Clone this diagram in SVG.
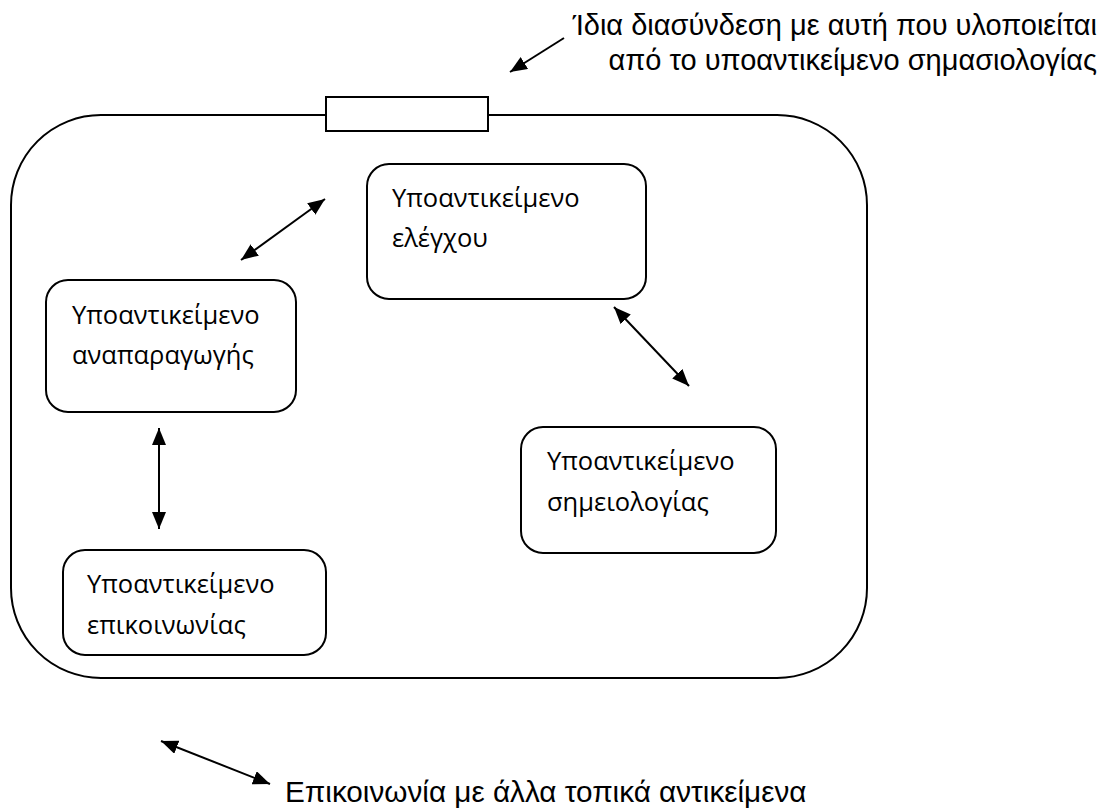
<svg xmlns="http://www.w3.org/2000/svg" width="1106" height="810" viewBox="0 0 1106 810">
  <style>
    .box { fill: #fff; stroke: #000; stroke-width: 2; }
    .lbl { font-family: "Open Sans", "DejaVu Sans", sans-serif; font-size: 25.5px; fill: #000; }
    .note { font-family: "Liberation Sans", Arial, sans-serif; font-size: 29px; fill: #000; }
    .wire { stroke: #000; stroke-width: 2; fill: none; }
  </style>
  <defs>
    <marker id="head" viewBox="0 0 17 14" refX="17" refY="7" markerWidth="17" markerHeight="14" markerUnits="userSpaceOnUse" orient="auto-start-reverse">
      <path d="M0,0 L17,7 L0,14 Z" fill="#000"/>
    </marker>
  </defs>

  <!-- outer object boundary with interface port on top -->
  <g id="container">
    <rect class="box" x="11" y="115" width="856" height="563" rx="90" ry="90"/>
    <rect class="box" x="326" y="97" width="162" height="34"/>
  </g>

  <g id="node-control">
    <rect class="box" x="367" y="164" width="279" height="135" rx="22" ry="22"/>
    <text class="lbl" x="392" y="207">Υποαντικείμενο</text>
    <text class="lbl" x="392" y="247">ελέγχου</text>
  </g>

  <g id="node-playback">
    <rect class="box" x="46" y="280" width="250" height="132" rx="22" ry="22"/>
    <text class="lbl" x="72" y="324">Υποαντικείμενο</text>
    <text class="lbl" x="72" y="364">αναπαραγωγής</text>
  </g>

  <g id="node-semiology">
    <rect class="box" x="521" y="427" width="255" height="126" rx="22" ry="22"/>
    <text class="lbl" x="547" y="470">Υποαντικείμενο</text>
    <text class="lbl" x="547" y="511">σημειολογίας</text>
  </g>

  <g id="node-comm">
    <rect class="box" x="63" y="550" width="263" height="105" rx="22" ry="22"/>
    <text class="lbl" x="87" y="593">Υποαντικείμενο</text>
    <text class="lbl" x="87" y="634">επικοινωνίας</text>
  </g>

  <g id="connectors">
    <line class="wire" x1="241" y1="260" x2="325" y2="199" marker-start="url(#head)" marker-end="url(#head)"/>
    <line class="wire" x1="614" y1="307" x2="689" y2="386" marker-start="url(#head)" marker-end="url(#head)"/>
    <line class="wire" x1="159" y1="428" x2="159" y2="529" marker-start="url(#head)" marker-end="url(#head)"/>
    <line class="wire" x1="564" y1="38" x2="510" y2="72" marker-end="url(#head)"/>
    <line class="wire" x1="161" y1="741" x2="270" y2="784" marker-start="url(#head)" marker-end="url(#head)"/>
  </g>

  <g id="notes">
    <text class="note" x="1097" y="35" text-anchor="end">Ίδια διασύνδεση με αυτή που υλοποιείται</text>
    <text class="note" x="1097" y="70" text-anchor="end">από το υποαντικείμενο σημασιολογίας</text>
    <text class="note" x="285" y="802" style="font-size:29.7px">Επικοινωνία με άλλα τοπικά αντικείμενα</text>
  </g>
</svg>
